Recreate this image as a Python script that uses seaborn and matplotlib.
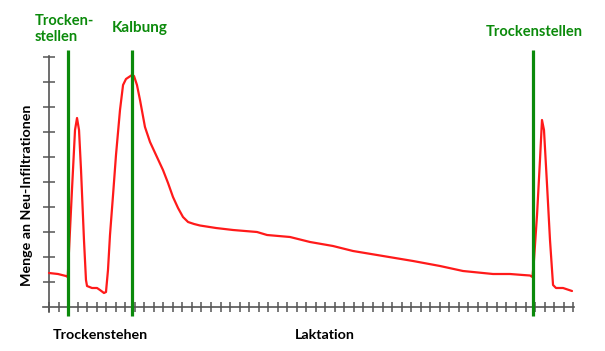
"""
Neu-Infiltrationen ueber den Laktationszyklus (Trockenstellen / Kalbung).
"""

import matplotlib
matplotlib.use("Agg")
import matplotlib.pyplot as plt
import seaborn as sns
import pandas as pd

# ==========================================
# DATA (x in tick units, y in axis units)
# ==========================================
zeit = [0.0, 0.94, 1.78, 1.96, 2.0, 2.41, 2.73, 2.94, 3.15, 3.36, 3.67, 3.88, 3.99,
        4.51, 5.04, 5.35, 5.77, 5.98, 6.19, 6.40, 6.72, 7.03, 7.45, 7.77, 8.08,
        8.39, 8.71, 8.92, 9.23, 9.55, 10.07, 10.6, 11.23, 11.96, 12.49, 13.01,
        13.54, 14.06, 14.59, 15.22, 15.84, 17.52, 19.31, 21.83, 22.88, 25.29,
        27.39, 29.80, 31.90, 35.05, 38.2, 41.03, 43.44, 46.59, 48.37, 49.74,
        50.47, 50.73, 50.89, 51.21, 51.52, 51.73, 51.94, 52.26, 52.57, 52.89,
        53.20, 53.94, 54.88]
infiltrationen = [1.36, 1.32, 1.24, 1.2, 1.48, 4.68, 7.08, 7.56, 7.08, 5.48, 2.68, 1.08,
                  0.84, 0.76, 0.76, 0.68, 0.56, 0.6, 1.48, 2.88, 4.48, 6.08, 7.88,
                  8.88, 9.12, 9.2, 9.28, 9.24, 8.88, 8.28, 7.2, 6.6, 6.08, 5.48, 4.96,
                  4.4, 3.96, 3.6, 3.4, 3.32, 3.26, 3.16, 3.08, 3.0, 2.88, 2.8, 2.6,
                  2.44, 2.24, 2.04, 1.84, 1.64, 1.44, 1.32, 1.32, 1.28, 1.26, 1.2,
                  1.88, 3.68, 5.88, 7.48, 7.08, 4.88, 2.68, 0.88, 0.76, 0.76, 0.64]

ereignis_x = [1.96, 8.7, 50.75]
ereignis_labels = ["Trocken-\nstellen", "Kalbung", "Trockenstellen"]

x_ticks = list(range(0, 56))
y_ticks = list(range(1, 11))

GREEN = "#0b8a0b"
RED = "#ff1a1a"
GRAY = "#555555"


def main():
    sns.set_theme(style="white")
    plt.rcParams["font.family"] = ["Lato", "DejaVu Sans"]

    W, H = 605, 351
    fig = plt.figure(figsize=(W / 100, H / 100), dpi=100)

    # axes mapped so that x=0 -> px 49, tick step 9.53 px; y=0 -> px 307, 25 px/unit
    x0, y0 = -0.8, -1.0
    x1, y1 = 55.3, 10.4
    left = 49 + x0 * 9.53
    right = 49 + x1 * 9.53
    bottom = 307 - y0 * 25
    top = 307 - y1 * 25
    ax = fig.add_axes([left / W, 1 - bottom / H, (right - left) / W, (bottom - top) / H])
    ax.set_xlim(x0, x1)
    ax.set_ylim(y0, y1)

    df = pd.DataFrame({"Zeit": zeit, "Infiltrationen": infiltrationen})
    sns.lineplot(data=df, x="Zeit", y="Infiltrationen", color=RED, lw=1.6,
                 estimator=None, sort=False, ax=ax, zorder=3)

    ax.vlines(ereignis_x, -0.36, 10.28, color=GREEN, lw=2.3, zorder=4)

    # axes styling
    for s in ["top", "right"]:
        ax.spines[s].set_visible(False)
    ax.spines["left"].set_position(("data", 0))
    ax.spines["bottom"].set_position(("data", 0))
    ax.spines["left"].set_bounds(-0.2, 10.05)
    ax.spines["bottom"].set_bounds(-0.6, 55.1)
    for s in ["left", "bottom"]:
        ax.spines[s].set_color(GRAY)
        ax.spines[s].set_linewidth(1.2)
    ax.set_xticks(x_ticks)
    ax.set_yticks(y_ticks)
    ax.set_xticklabels([])
    ax.set_yticklabels([])
    ax.tick_params(axis="x", direction="inout", length=7.5, width=1.1, color=GRAY, bottom=True)
    ax.tick_params(axis="y", direction="inout", length=8, width=1.1, color=GRAY, left=True)
    ax.set_xlabel("")
    ax.set_ylabel("")

    # labels
    def fx(px):
        return px / W

    def fy(py):
        return 1 - py / H

    fig.text(fx(35), fy(29), ereignis_labels[0], color=GREEN, fontsize=10.5, fontweight="bold",
             ha="left", va="center", linespacing=1.15)
    fig.text(fx(140), fy(28), ereignis_labels[1], color=GREEN, fontsize=11, fontweight="bold",
             ha="center", va="center")
    fig.text(fx(534), fy(32), ereignis_labels[2], color=GREEN, fontsize=10.5, fontweight="bold",
             ha="center", va="center")

    fig.text(fx(100), fy(335), "Trockenstehen", color="black", fontsize=10.3, fontweight="bold",
             ha="center", va="center")
    fig.text(fx(325), fy(335), "Laktation", color="black", fontsize=10.3, fontweight="bold",
             ha="center", va="center")
    fig.text(fx(27), fy(195), "Menge an Neu-Infiltrationen", color="black", fontsize=10.3,
             fontweight="bold", rotation=90, ha="center", va="center")

    fig.savefig("out.png", dpi=100)


if __name__ == "__main__":
    main()
